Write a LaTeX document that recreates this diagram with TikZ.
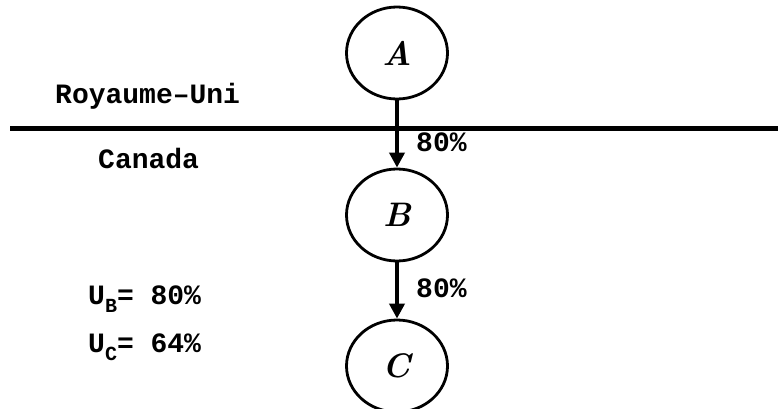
\documentclass[tikz,border=0pt]{standalone}
\usepackage{fontspec}
\setmonofont{Liberation Mono}
\usetikzlibrary{shapes.geometric,arrows.meta}
\begin{document}
\begin{tikzpicture}[x=1pt,y=-1pt,
  state/.style={ellipse,draw,line width=2.8pt,minimum width=101pt,minimum height=92pt,inner sep=0pt,font=\fontsize{34}{38}\selectfont\bfseries\itshape},
  lbl/.style={font=\fontsize{28}{30}\selectfont\ttfamily\bfseries,inner sep=0pt},
  link/.style={line width=4.5pt,-{Triangle[width=15pt,length=15pt]}}]
\useasboundingbox (0,0) rectangle (778,409);
\node[state] (A) at (397,53) {A};
\node[state] (B) at (397,215) {B};
\node[state] (C) at (397,366) {C};
\coordinate (L) at (10,128);
\coordinate (R) at (778,128);
\draw[line width=5pt] (L) -- (R);
\draw[link] (A) -- (B);
\draw[link] (B) -- (C);
\node[lbl,anchor=west] (p1) at (416,142) {80\%};
\node[lbl,anchor=west] (p2) at (416,288) {80\%};
\node[lbl,anchor=west] (uk) at (55,96) {Royaume–Uni};
\node[lbl,anchor=west] (ca) at (98,158) {Canada};
\node[lbl,anchor=west] (ub) at (88,299) {U\raisebox{-0.3em}{\fontsize{20}{22}\selectfont B}= 80\%};
\node[lbl,anchor=west] (uc) at (88,347) {U\raisebox{-0.3em}{\fontsize{20}{22}\selectfont C}= 64\%};
\end{tikzpicture}
\end{document}
